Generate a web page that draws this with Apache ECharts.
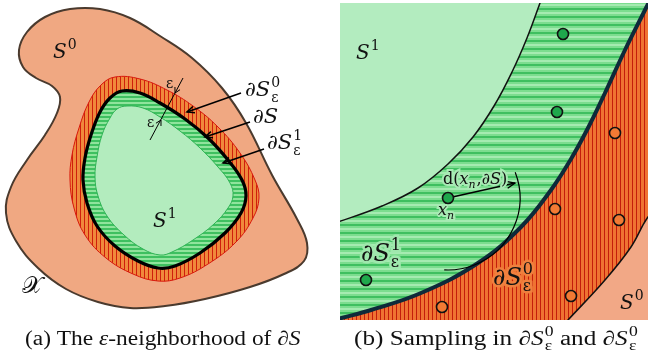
<!DOCTYPE html>
<html><head><meta charset="utf-8">
<script src="https://cdn.jsdelivr.net/npm/echarts@6/dist/echarts.min.js"></script>
<style>html,body{margin:0;padding:0;background:#fff}#c{width:648px;height:354px}</style>
</head><body><div id="c"></div>
<script>
// ---------- data: diagram outlines (figure-space coordinates) ----------
// Panel (a)
const outlineS0 = [[100,9],[130,18],[160,36],[192,58],[222,88],[246,123],[272,175],[297,219],[307,243],[304,261],[284,274],[250,287],[205,299],[165,306],[130,308],[98,302],[66,289],[38,268],[16,241],[6,213],[11,187],[27,160],[45,135],[57,113],[60,97],[52,86],[36,78],[23,67],[19,50],[27,32],[45,17],[70,9]];
const outlineBand0 = [[115,77],[140,79],[167,90],[193,106],[218,127],[240,153],[255,180],[259,198],[253,218],[236,242],[208,264],[180,278],[158,281],[133,274],[106,258],[85,235],[74,208],[70,180],[72,155],[79,128],[89,102],[101,85]];
const outlineBoundary = [[122,91],[140,93],[160,103],[185,119],[208,138],[228,160],[242,180],[246,196],[241,213],[225,233],[200,253],[175,266],[158,268],[138,261],[115,246],[97,226],[87,203],[83,180],[85,158],[91,135],[100,112],[110,98]];
const outlineS1 = [[127,106],[143,108],[160,117],[180,131],[200,148],[218,167],[230,183],[233,196],[228,208],[214,224],[193,240],[172,252],[160,255],[143,249],[124,235],[107,216],[98,196],[95,177],[97,157],[102,135],[110,118],[117,109]];
const arrowsA = [[[241,93],[187,112]],[[250,122],[205,137]],[[264,149],[223,163]]];
const epsLine = [[150,140],[183,78]];
const epsHeads = [[[183,78],[175,93]],[[150,140],[161,120]]];

// Panel (b)
const panelB = [[340,3],[648,3],[648,320],[340,320]];
const curveS1 = [[552,-30],[540,3],[527,38],[512,72],[494,106],[473,137],[448,164],[418,188],[382,206],[338,222],[296,236]];
const curveBoundary = [[660,-20],[645,10],[625,50],[605,93],[588,128],[571,159],[551,190],[521,227],[478,263],[421,293],[371,310],[338,319],[300,330]];
const curveS0 = [[672,190],[648,217],[631,247],[605,280],[568,320],[545,345]];
const farGreen = [[296,400],[700,400],[700,-30]];
const farRed = [[300,400],[700,400],[700,-20]];
const farSalmon = [[560,400],[720,400],[720,180]];
const samplesIn = [[563,34],[557,112],[448,198],[366,280]];
const samplesOut = [[615,133],[555,209],[619,220],[571,296],[442,307]];
const distArrow = [[448,198],[515,183]];
const distArc = {center:[448,198], r:72, fromDeg:-21, toDeg:93};

// Labels
const labelsA = [
  {at:[53,53], tex:[['S','i'],['0','sup']], kind:'region'},
  {at:[153,222], tex:[['S','i'],['1','sup']], kind:'region'},
  {at:[22,287], tex:[['𝒳','r']], kind:'space'},
  {at:[245,91], tex:[['∂','r'],['S','i'],['0|ε','ss']], kind:'bnd'},
  {at:[253,118], tex:[['∂','r'],['S','i']], kind:'bnd'},
  {at:[267,144], tex:[['∂','r'],['S','i'],['1|ε','ss']], kind:'bnd'},
  {at:[166,84], tex:[['ε','r']], kind:'eps'},
  {at:[147,123], tex:[['ε','r']], kind:'eps'}
];
const labelsB = [
  {at:[356,54], tex:[['S','i'],['1','sup']], kind:'region'},
  {at:[443,180], tex:[['d(','r'],['x','i'],['n','subi'],[',∂','r'],['S','i'],[')','r']], kind:'dist'},
  {at:[438,211], tex:[['x','i'],['n','subi']], kind:'dist'},
  {at:[361,255], tex:[['∂','r'],['S','i'],['1|ε','ss']], kind:'bndIn'},
  {at:[493,279], tex:[['∂','r'],['S','i'],['0|ε','ss']], kind:'bndOut'},
  {at:[620,304], tex:[['S','i'],['0','sup']], kind:'region'}
];
const captions = [
  {at:[25,340], tex:[['(a) The ','r'],['ε','i'],['-neighborhood of ∂','r'],['S','i']], kind:'captionA'},
  {at:[354,340], tex:[['(b) Sampling in ∂','r'],['S','i'],['0|ε','ss'],[' and ∂','r'],['S','i'],['0|ε','ss']], kind:'captionB'}
];

// ---------- styles ----------
const MATH = 'DejaVu Serif', CAP = 'Liberation Serif';
const kindStyle = {
  region:{fs:20}, space:{fs:24}, bnd:{fs:21}, eps:{fs:14},
  dist:{fs:16, halo:'#a8eab4', hw:4},
  bndIn:{fs:24, halo:'#9fe8ad', hw:5},
  bndOut:{fs:24, halo:'#f0803e', hw:5},
  captionA:{fs:20, sx:1.17},
  captionB:{fs:20, sx:1.26}
};
function stripes(dir, period, bg, lines) {
  const c = document.createElement('canvas');
  if (dir === 'v') { c.width = period; c.height = 8; } else { c.width = 8; c.height = period; }
  const g = c.getContext('2d');
  g.fillStyle = bg; g.fillRect(0,0,c.width,c.height);
  lines.forEach(([off,w,col]) => { g.fillStyle = col; if (dir==='v') g.fillRect(off,0,w,c.height); else g.fillRect(0,off,c.width,w); });
  return {image:c, repeat:'repeat'};
}
const redA = stripes('v', 4, '#f0893c', [[0,1,'#cf1f0c']]);
const greenA = stripes('h', 4, '#8fe49c', [[0,2,'#3ec060']]);
const redB = stripes('v', 4, '#ef7332', [[0,1,'#c41d0b']]);
const greenB = stripes('h', 8, '#7cdd8f', [[0,2,'#3fbf60'],[4,2,'#a5ebb1']]);

const mctx = document.createElement('canvas').getContext('2d');
function tw(t, it, fs, fam) { mctx.font = (it?'italic ':'') + fs + 'px "' + fam + '"'; return mctx.measureText(t).width; }
function layoutMath(parts, x, y, fs, fam, color, halo, hw) {
  const items = []; let cx = x; const s = Math.round(fs*0.68);
  for (const [t,k] of parts) {
    if (k==='r'||k==='i') { items.push([t,cx,y,fs,k==='i']); cx += tw(t,k==='i',fs,fam); }
    else if (k==='sup') { cx += 1; items.push([t,cx,y-fs*0.36,s,false]); cx += tw(t,false,s,fam); }
    else if (k==='sub'||k==='subi') { const it = k==='subi'; items.push([t,cx,y+fs*0.3,s,it]); cx += tw(t,it,s,fam)+1; }
    else if (k==='ss') { const [a,b] = t.split('|'); cx += 1; items.push([a,cx,y-fs*0.38,s,false]); items.push([b,cx,y+fs*0.33,s,false]); cx += Math.max(tw(a,false,s,fam),tw(b,false,s,fam)); }
  }
  const mk = (it, isHalo) => ({type:'text', x:it[1], y:it[2], silent:true, style:{
    text:it[0], fontSize:it[3], fontFamily:fam, fontStyle:it[4]?'italic':'normal', align:'left', verticalAlign:'middle',
    fill: isHalo?halo:color, stroke: isHalo?halo:null, lineWidth: isHalo?hw:0, lineJoin:'round'}});
  const els = [];
  if (halo) items.forEach(it => els.push(mk(it,true)));
  items.forEach(it => els.push(mk(it,false)));
  return els;
}
function arrowEls(api, a, b, opt) {
  const p = api.coord(a), q = api.coord(b);
  const ang = Math.atan2(q[1]-p[1], q[0]-p[0]), L = opt.head||7, w = opt.spread||0.42;
  const h1 = [q[0]-L*Math.cos(ang-w), q[1]-L*Math.sin(ang-w)], h2 = [q[0]-L*Math.cos(ang+w), q[1]-L*Math.sin(ang+w)];
  const els = [];
  if (opt.shaft !== false) els.push({type:'line', shape:{x1:p[0],y1:p[1],x2:q[0],y2:q[1]}, style:{stroke:'#000', lineWidth:opt.lw||1.4}});
  els.push({type:'polyline', shape:{points:[h1,q,h2]}, style:{stroke:'#000', fill:null, lineWidth:opt.lw||1.4}});
  return els;
}

// ---------- series builders ----------
let zc = 1;
function shape(axis, pts, style, closed, extra) {
  const all = extra ? pts.concat(extra) : pts;
  return {type:'custom', xAxisIndex:axis, yAxisIndex:axis, clip: axis===1, silent:true, animation:false, z: zc++,
    data: pts,
    renderItem: (params, api) => params.dataIndex !== 0 ? null : ({
      type: closed ? 'polygon' : 'polyline',
      shape: {points: all.map(q => api.coord(q)), smooth: 0.4},
      style: Object.assign({fill: null, stroke: null}, style)
    })};
}
function labelSeries(axis, list, fam) {
  return {type:'custom', xAxisIndex:axis, yAxisIndex:axis, clip:false, silent:true, animation:false, z: zc++,
    data: list.map(l => l.at),
    renderItem: (params, api) => {
      const L = list[params.dataIndex]; const st = kindStyle[L.kind];
      const p = api.coord(L.at);
      return {type:'group', x:p[0], y:p[1], scaleX: st.sx || 1, children: layoutMath(L.tex, 0, 0, st.fs, fam, '#111', st.halo, st.hw)};
    }};
}

const series = [
  // panel (a)
  shape(0, outlineS0, {fill:'#f0a882', stroke:'#4a3a2e', lineWidth:2}, true),
  shape(0, outlineBand0, {fill:redA, stroke:'#d8180c', lineWidth:1}, true),
  shape(0, outlineBoundary, {fill:greenA}, true),
  shape(0, outlineS1, {fill:'#b3ecbe', stroke:'#2fb455', lineWidth:1}, true),
  shape(0, outlineBoundary, {stroke:'#000', lineWidth:3.2}, true),
  {type:'custom', xAxisIndex:0, yAxisIndex:0, silent:true, animation:false, z: zc++, data: arrowsA.map(a => a[0]),
    renderItem: (params, api) => ({type:'group', children: arrowEls(api, arrowsA[params.dataIndex][0], arrowsA[params.dataIndex][1], {lw:1.5, head:8})})},
  {type:'custom', xAxisIndex:0, yAxisIndex:0, silent:true, animation:false, z: zc++, data: epsLine,
    renderItem: (params, api) => params.dataIndex !== 0 ? null : ({type:'group', children: [
      {type:'line', shape:(() => { const a = api.coord(epsLine[0]), b = api.coord(epsLine[1]); return {x1:a[0],y1:a[1],x2:b[0],y2:b[1]}; })(), style:{stroke:'#000', lineWidth:1}}
    ].concat(...epsHeads.map(h => arrowEls(api, h[0], h[1], {shaft:false, lw:1, head:6, spread:0.5})))})},
  labelSeries(0, labelsA, MATH),
  // panel (b)
  shape(1, panelB, {fill:'#b3ecbf'}, true),
  shape(1, curveS1, {fill:greenB}, true, farGreen),
  shape(1, curveBoundary, {fill:redB}, true, farRed),
  shape(1, curveS0, {fill:'#f2a886'}, true, farSalmon),
  shape(1, curveS1, {stroke:'#111', lineWidth:1.5}, false),
  shape(1, curveS0, {stroke:'#111', lineWidth:1.5}, false),
  shape(1, curveBoundary, {stroke:'#0e2a3a', lineWidth:4}, false),
  {type:'custom', xAxisIndex:1, yAxisIndex:1, clip:true, silent:true, animation:false, z: zc++, data:[distArc.center],
    renderItem: (params, api) => {
      const c = api.coord(distArc.center); const r = api.size([distArc.r, 0])[0];
      return {type:'group', children: [
        {type:'arc', shape:{cx:c[0], cy:c[1], r:r, startAngle:distArc.fromDeg*Math.PI/180, endAngle:distArc.toDeg*Math.PI/180, clockwise:true}, style:{stroke:'#000', fill:null, lineWidth:1.2}}
      ].concat(arrowEls(api, distArrow[0], distArrow[1], {lw:1.3, head:9, spread:0.4}))};
    }},
  {type:'scatter', xAxisIndex:1, yAxisIndex:1, silent:true, animation:false, z: zc++, data: samplesIn, symbol:'circle', symbolSize:11,
    itemStyle:{color:'#1fa84c', borderColor:'#111', borderWidth:1.6, opacity:1}},
  {type:'scatter', xAxisIndex:1, yAxisIndex:1, silent:true, animation:false, z: zc++, data: samplesOut, symbol:'circle', symbolSize:11,
    itemStyle:{color:'#f27a34', borderColor:'#111', borderWidth:1.6, opacity:1}},
  labelSeries(1, labelsB, MATH),
  labelSeries(0, captions, CAP)
];

const chart = echarts.init(document.getElementById('c'), null, {renderer:'canvas'});
chart.setOption({
  animation:false,
  backgroundColor:'#ffffff',
  grid:[{left:0, top:0, width:648, height:354, show:false}, {left:340, top:3, width:308, height:317, show:false}],
  xAxis:[{type:'value', gridIndex:0, min:0, max:648, show:false}, {type:'value', gridIndex:1, min:340, max:648, show:false}],
  yAxis:[{type:'value', gridIndex:0, min:0, max:354, inverse:true, show:false}, {type:'value', gridIndex:1, min:3, max:320, inverse:true, show:false}],
  series: series
});
</script></body></html>
